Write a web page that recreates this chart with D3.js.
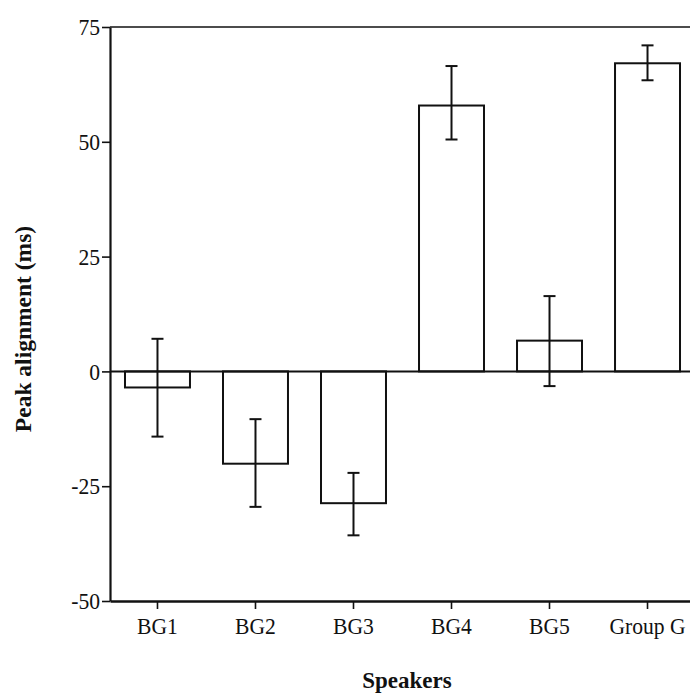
<!DOCTYPE html>
<html>
<head>
<meta charset="utf-8">
<script src="https://cdn.jsdelivr.net/npm/d3@7"></script>
<style>
  body { margin: 0; background: #fff; }
  svg text { font-family: "Liberation Serif", "Times New Roman", serif; fill: #111; }
</style>
</head>
<body>
<div id="chart"></div>
<script>
// data
var speakers = ["BG1", "BG2", "BG3", "BG4", "BG5", "Group G"];
var means    = [-3.5, -20.1, -28.7, 57.9, 6.7, 67.1];
var errHigh  = [7.1, -10.4, -22.1, 66.5, 16.4, 71.0];
var errLow   = [-14.2, -29.5, -35.7, 50.5, -3.2, 63.4];
var yTicks   = [75, 50, 25, 0, -25, -50];

// set dimensions (note: "top" is taken by window.top)
var width = 690, height = 695;
var plotLeft = 110, plotRight = 695, plotTop = 27, plotBottom = 601;

var svg = d3.select("#chart")
            .append("svg")
            .attr("width", width)
            .attr("height", height);

var x = d3.scaleBand()
          .domain(speakers)
          .range([plotLeft, plotRight])
          .paddingInner(0.337)
          .paddingOuter(0.153);

var y = d3.scaleLinear()
          .domain([-50, 75])
          .range([plotBottom, plotTop]);

// top frame line
svg.append("line")
   .attr("x1", plotLeft).attr("x2", plotRight)
   .attr("y1", y(75)).attr("y2", y(75))
   .attr("stroke", "#111").attr("stroke-width", 1.6);

// bars
svg.selectAll("rect.bar")
   .data(speakers)
   .enter().append("rect")
   .attr("class", "bar")
   .attr("x", function(d){ return x(d); })
   .attr("width", x.bandwidth())
   .attr("y", function(d, i){ return y(Math.max(0, means[i])); })
   .attr("height", function(d, i){ return Math.abs(y(means[i]) - y(0)); })
   .attr("fill", "#fff")
   .attr("stroke", "#111")
   .attr("stroke-width", 2);

// zero line
svg.append("line")
   .attr("x1", plotLeft).attr("x2", plotRight)
   .attr("y1", y(0)).attr("y2", y(0))
   .attr("stroke", "#111").attr("stroke-width", 2);

// error bars
var cap = 6;
var eb = svg.selectAll("g.err")
            .data(speakers)
            .enter().append("g")
            .attr("class", "err")
            .attr("transform", function(d){ return "translate(" + (x(d) + x.bandwidth()/2) + ",0)"; })
            .attr("stroke", "#111")
            .attr("stroke-width", 2);
eb.append("line")
  .attr("y1", function(d, i){ return y(errHigh[i]); })
  .attr("y2", function(d, i){ return y(errLow[i]); });
eb.append("line")
  .attr("x1", -cap).attr("x2", cap)
  .attr("y1", function(d, i){ return y(errHigh[i]); })
  .attr("y2", function(d, i){ return y(errHigh[i]); });
eb.append("line")
  .attr("x1", -cap).attr("x2", cap)
  .attr("y1", function(d, i){ return y(errLow[i]); })
  .attr("y2", function(d, i){ return y(errLow[i]); });

// y axis
var yAxis = svg.append("g")
   .attr("transform", "translate(" + plotLeft + ",0)")
   .call(d3.axisLeft(y).tickValues(yTicks).tickSize(8).tickSizeOuter(0).tickPadding(2)
           .tickFormat(function(d){ return String(d); }));
yAxis.select(".domain").attr("stroke", "#111").attr("stroke-width", 2.2);
yAxis.selectAll(".tick line").attr("stroke", "#111").attr("stroke-width", 1.6);
// the scan's type is a little narrow, so squeeze it sideways
yAxis.selectAll(".tick text")
     .attr("x", -11)
     .attr("transform", "scale(0.9,1)")
     .attr("font-size", "24px")
     .attr("font-family", "Liberation Serif");

// x axis
var xAxis = svg.append("g")
   .attr("transform", "translate(0," + plotBottom + ")")
   .call(d3.axisBottom(x).tickSize(8).tickSizeOuter(0));
xAxis.select(".domain").attr("stroke", "#111").attr("stroke-width", 2.4);
xAxis.selectAll(".tick line").attr("stroke", "#111").attr("stroke-width", 1.6);
xAxis.selectAll(".tick text")
     .attr("y", 33)
     .attr("dy", null)
     .attr("transform", "scale(0.9,1)")
     .attr("font-size", "24px")
     .attr("font-family", "Liberation Serif");

// axis titles
svg.append("text")
   .attr("x", 407)
   .attr("y", 688)
   .attr("text-anchor", "middle")
   .attr("font-size", "23px")
   .attr("font-weight", 700)
   .text("Speakers");

svg.append("text")
   .attr("transform", "translate(31,329) rotate(-90)")
   .attr("text-anchor", "middle")
   .attr("font-size", "23.5px")
   .attr("font-weight", 700)
   .text("Peak alignment (ms)");
</script>
</body>
</html>
